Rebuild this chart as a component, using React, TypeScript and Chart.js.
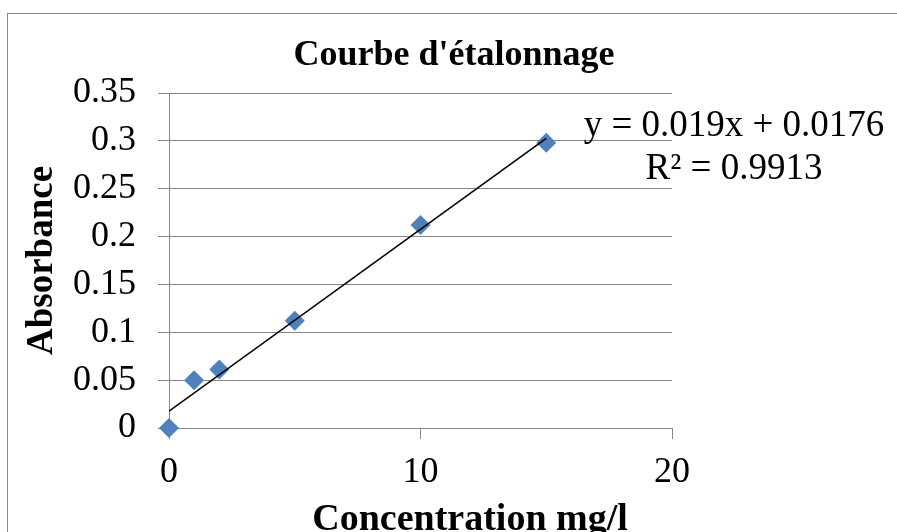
import React, { useEffect, useRef } from 'react';
import { Chart, registerables } from 'chart.js';

Chart.register(...registerables);

const concentrations = [0, 1, 2, 5, 10, 15];
const absorbances = [0, 0.05, 0.061, 0.112, 0.212, 0.298];
const trendX = [0, 15];
const trendY = [0.0176, 0.3026];
const yTicks = [0, 0.05, 0.1, 0.15, 0.2, 0.25, 0.3, 0.35];
const yTickLabels = ['0', '0.05', '0.1', '0.15', '0.2', '0.25', '0.3', '0.35'];
const xTicks = [0, 10, 20];
const xTickLabels = ['0', '10', '20'];
const chartTitle = "Courbe d'étalonnage";
const xTitle = 'Concentration mg/l';
const yTitle = 'Absorbance';
const equationLines = ['y = 0.019x + 0.0176', 'R² = 0.9913'];

const FAMILY = '"Liberation Serif", "Times New Roman", serif';
const GRID = '#868686';

const decorPlugin = {
  id: 'decor',
  beforeDraw(chart: any) {
    const ctx = chart.ctx;
    ctx.save();
    ctx.strokeStyle = GRID;
    ctx.lineWidth = 1;
    ctx.strokeRect(7.5, 13.5, chart.width + 40, chart.height + 40);
    ctx.restore();
  },
  afterDraw(chart: any) {
    const { ctx, chartArea } = chart;
    ctx.save();
    ctx.fillStyle = '#000';
    ctx.textAlign = 'center';
    ctx.textBaseline = 'alphabetic';
    // chart title
    ctx.font = `bold 36px ${FAMILY}`;
    ctx.fillText(chartTitle, 454, 65);
    // x axis title
    ctx.font = `bold 38px ${FAMILY}`;
    ctx.fillText(xTitle, chartArea.left + 301, 530);
    // trendline equation
    ctx.font = `37px ${FAMILY}`;
    const cx = chartArea.right + 62;
    ctx.fillText(equationLines[0], cx, chartArea.top + 43);
    ctx.fillText(equationLines[1], cx, chartArea.top + 85.5);
    ctx.restore();
  },
};

export default function App() {
  const ref = useRef<HTMLCanvasElement | null>(null);

  useEffect(() => {
    if (!ref.current) return;
    const chart = new Chart(ref.current, {
      type: 'scatter',
      data: {
        datasets: [
          {
            label: 'Trend',
            data: trendX.map((x, i) => ({ x, y: trendY[i] })),
            showLine: true,
            borderColor: '#000',
            borderWidth: 1.6,
            pointRadius: 0,
            order: 0,
          } as any,
          {
            label: 'Absorbance',
            data: concentrations.map((x, i) => ({ x, y: absorbances[i] })),
            pointStyle: 'rectRot',
            pointRadius: 10,
            backgroundColor: '#4F81BD',
            borderColor: '#4F81BD',
            borderWidth: 0,
            clip: false,
            order: 1,
          } as any,
        ],
      },
      options: {
        animation: false,
        responsive: false,
        layout: { padding: { top: 93, right: 225, left: 0, bottom: 0 } },
        plugins: {
          legend: { display: false },
          tooltip: { enabled: false },
          title: { display: false },
        },
        scales: {
          x: {
            type: 'linear',
            min: 0,
            max: 20,
            afterBuildTicks: (s: any) => {
              s.ticks = xTicks.map((v) => ({ value: v }));
            },
            afterFit: (s: any) => {
              s.height = 104;
            },
            grid: { drawOnChartArea: false, drawTicks: true, tickLength: 11, color: GRID, lineWidth: 1 },
            border: { display: true, color: GRID, width: 1 },
            ticks: {
              font: { family: FAMILY, size: 36 },
              color: '#000',
              padding: 12,
              maxRotation: 0,
              autoSkip: false,
              callback: (_v: any, i: number) => xTickLabels[i],
            },
            title: { display: false, text: xTitle },
          },
          y: {
            type: 'linear',
            min: 0,
            max: 0.35,
            afterBuildTicks: (s: any) => {
              s.ticks = yTicks.map((v) => ({ value: v }));
            },
            afterFit: (s: any) => {
              s.width = 169;
            },
            grid: { color: GRID, tickLength: 11, lineWidth: 1 },
            border: { display: true, color: GRID, width: 1 },
            ticks: {
              font: { family: FAMILY, size: 36 },
              color: '#000',
              padding: 22,
              autoSkip: false,
              callback: (_v: any, i: number) => yTickLabels[i],
            },
            title: {
              display: true,
              text: yTitle,
              color: '#000',
              font: { family: FAMILY, size: 37, weight: 'bold', lineHeight: 1.2 },
              padding: { top: 20, bottom: 0 },
            },
          },
        },
      } as any,
      plugins: [decorPlugin],
    });
    return () => chart.destroy();
  }, []);

  return (
    <div style={{ position: 'absolute', left: 0, top: 0, width: 897, height: 532 }}>
      <canvas ref={ref} width={897} height={532} style={{ display: 'block' }} />
    </div>
  );
}
